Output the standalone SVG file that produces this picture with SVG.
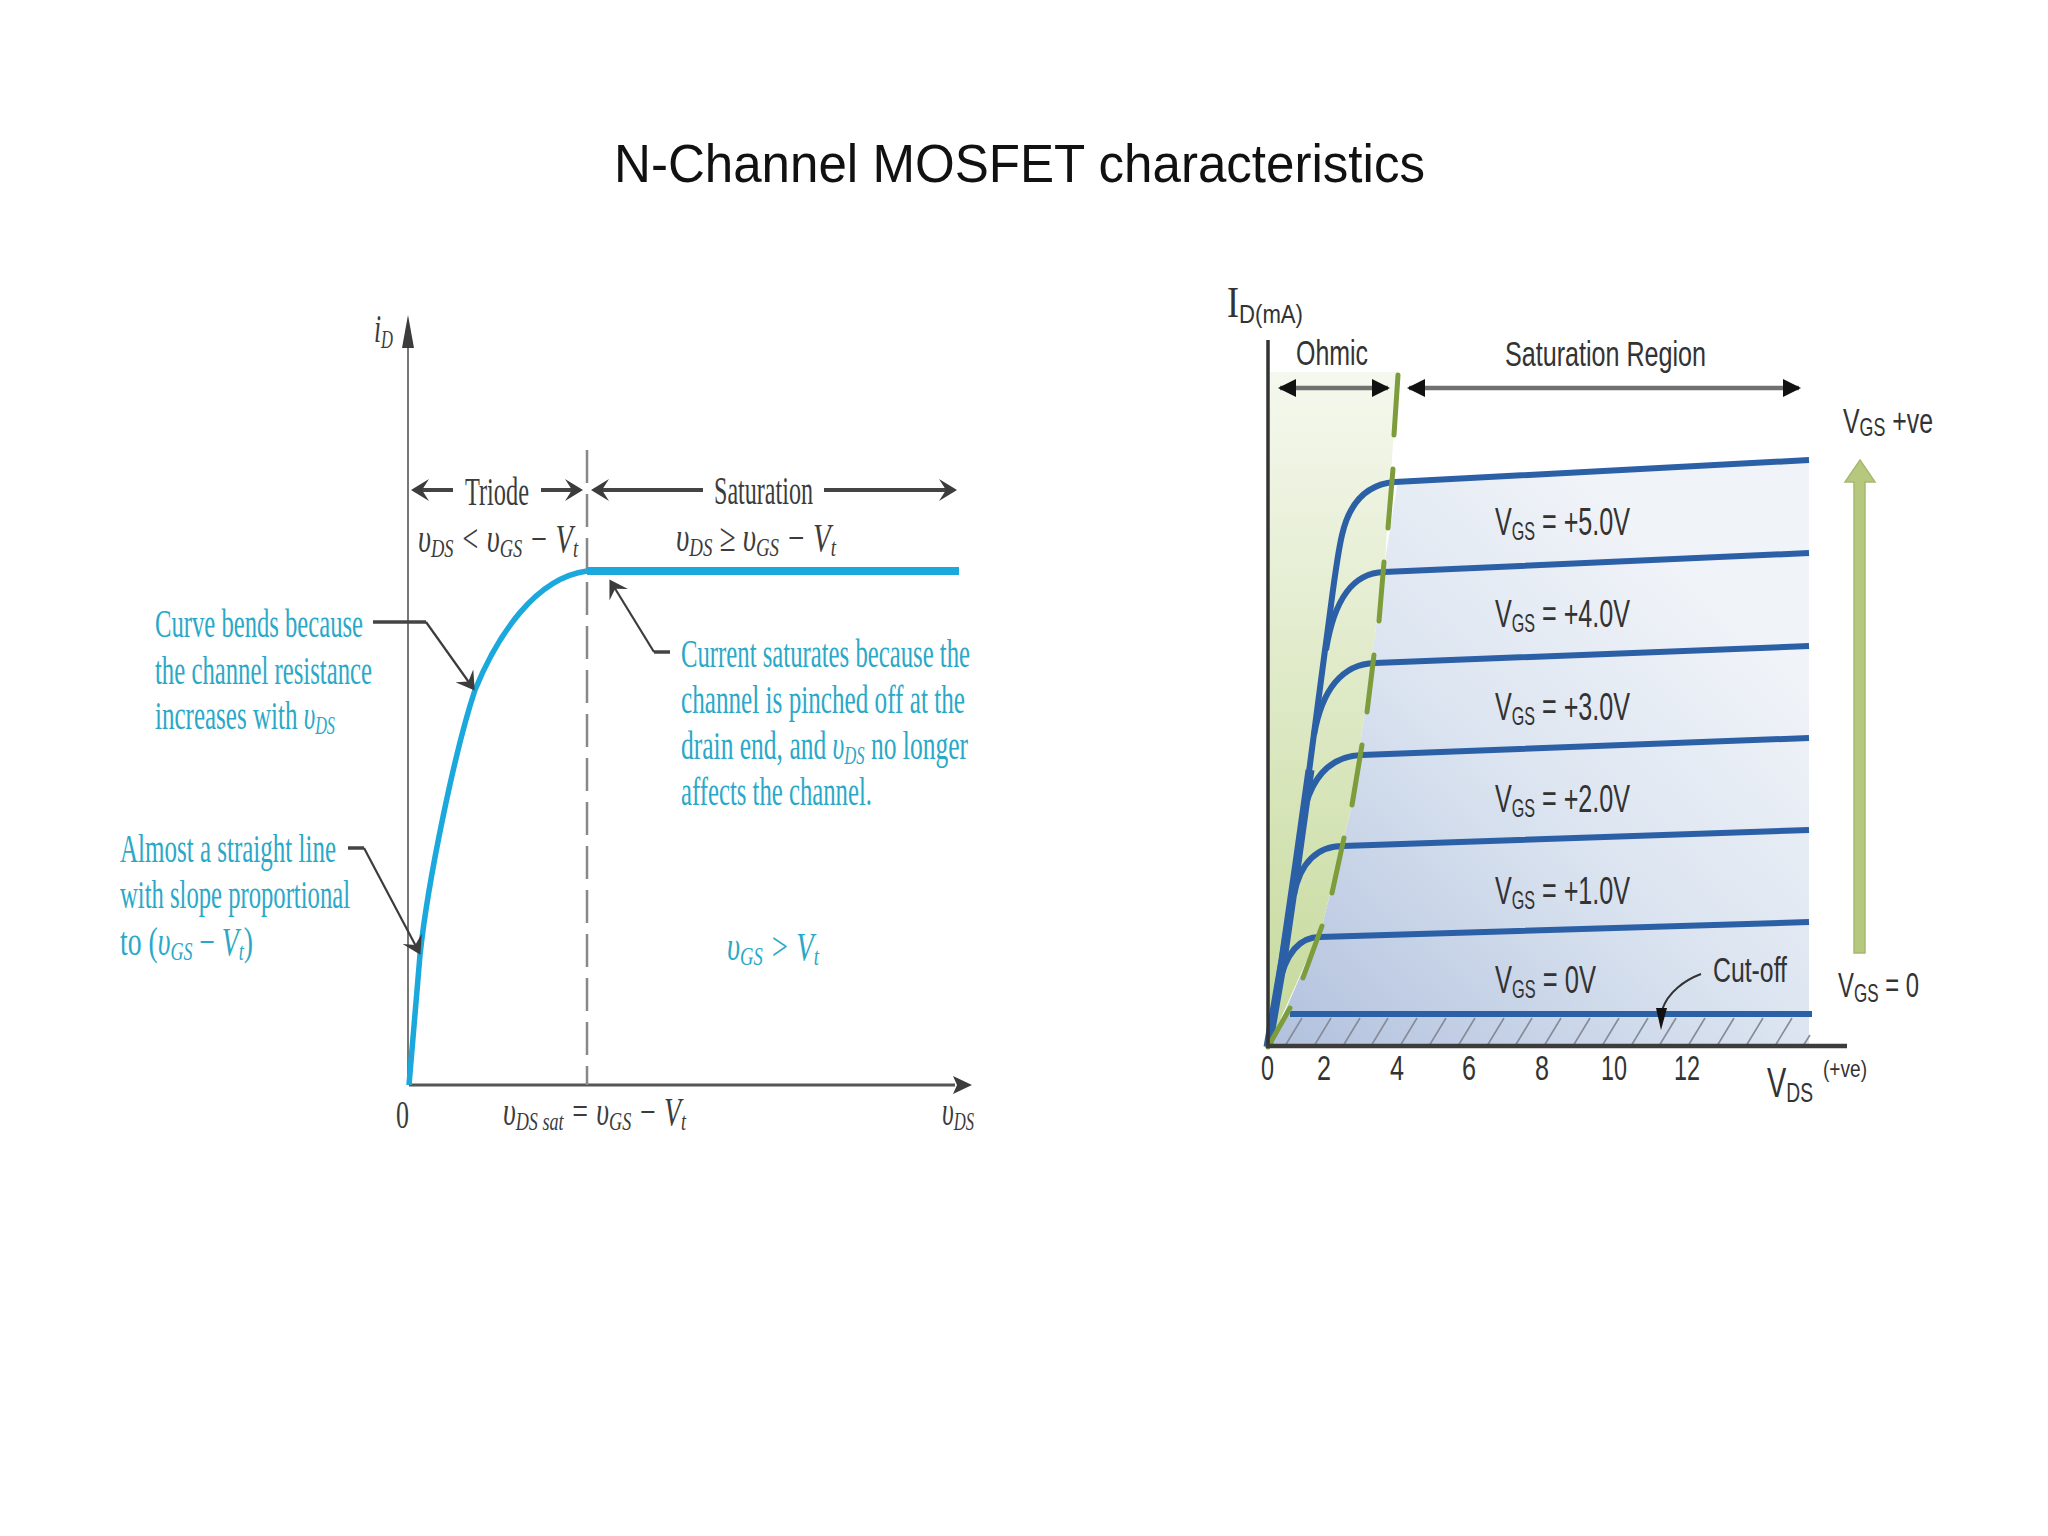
<svg xmlns="http://www.w3.org/2000/svg" width="2048" height="1536" viewBox="0 0 2048 1536">
<style>
text{white-space:pre}
.title{font:53px "Liberation Sans",Arial,sans-serif;fill:#111}
.s{font-family:"Liberation Serif","Times New Roman",serif;font-size:40px}
.d{fill:#3c3c3c}
.c{fill:#2aa8c8}
.i{font-style:italic}
.sub{font-size:26px}
.h{font-family:"Liberation Sans",Arial,sans-serif;font-size:39px;fill:#333}
.m{font-size:35px}
.gs{font-size:25px}
.thin{fill:none;stroke:#555;stroke-width:1.6}
.blk{fill:none;stroke:#3c3c3c;stroke-width:2.2}
.thk{fill:none;stroke:#444;stroke-width:4}
.bl{fill:none;stroke:#2b5fa6;stroke-width:6}
.dash{fill:none;stroke:#7d9c3c;stroke-width:5;stroke-linecap:round}
.gray{fill:none;stroke:#707070;stroke-width:4.5}
</style>
<defs>
<marker id="barb" markerUnits="userSpaceOnUse" viewBox="-18 -11 18 22" refX="-3" refY="0" markerWidth="18" markerHeight="22" orient="auto"><path d="M-18,-11 L0,0 L-18,11 L-11,0 Z" fill="#3c3c3c"/></marker>
<marker id="tri" markerUnits="userSpaceOnUse" viewBox="-18 -9 18 18" refX="-2" refY="0" markerWidth="18" markerHeight="18" orient="auto"><path d="M-18,-9 L0,0 L-18,9 Z" fill="#111"/></marker>
<linearGradient id="gb" gradientUnits="userSpaceOnUse" x1="1290" y1="1045" x2="1809" y2="480"><stop offset="0" stop-color="#b3c2de"/><stop offset=".45" stop-color="#dbe4f0"/><stop offset=".8" stop-color="#f0f3f8"/></linearGradient>
<linearGradient id="gg" gradientUnits="userSpaceOnUse" x1="0" y1="372" x2="0" y2="1046"><stop offset="0" stop-color="#f5f8ee"/><stop offset="1" stop-color="#c5d99a"/></linearGradient>
</defs>
<rect width="2048" height="1536" fill="#fff"/>
<text class="title" x="614" y="182" textLength="811" lengthAdjust="spacingAndGlyphs">N-Channel MOSFET characteristics</text>

<g id="triode-chart">
<g id="triode-axes">
<path class="thin" d="M408 1085V340"/>
<path d="M408 315L414 348H402Z" fill="#3c3c3c"/>
<path d="M409 1085H955" fill="none" stroke="#555" stroke-width="3"/>
<path d="M972 1085L953 1076L957 1085L953 1094Z" fill="#3c3c3c"/>
<path d="M587 450V1085" fill="none" stroke="#888" stroke-width="2.5" stroke-dasharray="33 11"/>
</g>
<g id="triode-curve">
<path d="M409 1085L420 955C428 880 455 750 475 690C497 636 535 578 587 571" fill="none" stroke="#1ba8dc" stroke-width="5.5"/>
<path d="M587 571H959" fill="none" stroke="#1ba8dc" stroke-width="8"/>
</g>
<g id="triode-connectors">
<path class="thk" d="M453 490H414" marker-end="url(#barb)"/>
<path class="thk" d="M541 490H580" marker-end="url(#barb)"/>
<path class="thk" d="M703 490H594" marker-end="url(#barb)"/>
<path class="thk" d="M824 490H954" marker-end="url(#barb)"/>
<path fill="none" stroke="#444" stroke-width="3.5" d="M373 622H426"/>
<path class="blk" d="M426 622L473 688" marker-end="url(#barb)"/>
<path fill="none" stroke="#444" stroke-width="3.5" d="M670 652H654"/>
<path class="blk" d="M654 652L611 582" marker-end="url(#barb)"/>
<path fill="none" stroke="#444" stroke-width="3.5" d="M348 848H364"/>
<path class="blk" d="M364 848L419 952" marker-end="url(#barb)"/>
</g>
<g id="triode-labels">
<text class="s d i" x="374" y="342" textLength="19" lengthAdjust="spacingAndGlyphs">i<tspan class="sub" dy="6">D</tspan></text>
<text class="s d" x="465" y="505" textLength="64" lengthAdjust="spacingAndGlyphs">Triode</text>
<text class="s d" x="714" y="504" textLength="99" lengthAdjust="spacingAndGlyphs">Saturation</text>
<text class="s d i" x="418" y="552" textLength="160" lengthAdjust="spacingAndGlyphs">υ<tspan class="sub" dy="5">DS</tspan><tspan dy="-5"> &lt; υ</tspan><tspan class="sub" dy="5">GS</tspan><tspan dy="-5"> − V</tspan><tspan class="sub" dy="5">t</tspan></text>
<text class="s d i" x="676" y="551" textLength="160" lengthAdjust="spacingAndGlyphs">υ<tspan class="sub" dy="5">DS</tspan><tspan dy="-5"> ≥ υ</tspan><tspan class="sub" dy="5">GS</tspan><tspan dy="-5"> − V</tspan><tspan class="sub" dy="5">t</tspan></text>
<text class="s c" x="155" y="637" textLength="208" lengthAdjust="spacingAndGlyphs">Curve bends because</text>
<text class="s c" x="155" y="684" textLength="217" lengthAdjust="spacingAndGlyphs">the channel resistance</text>
<text class="s c" x="155" y="729" textLength="180" lengthAdjust="spacingAndGlyphs">increases with <tspan class="i">υ</tspan><tspan class="sub i" dy="5">DS</tspan></text>
<text class="s c" x="681" y="667" textLength="289" lengthAdjust="spacingAndGlyphs">Current saturates because the</text>
<text class="s c" x="681" y="713" textLength="284" lengthAdjust="spacingAndGlyphs">channel is pinched off at the</text>
<text class="s c" x="681" y="759" textLength="287" lengthAdjust="spacingAndGlyphs">drain end, and <tspan class="i">υ</tspan><tspan class="sub i" dy="5">DS</tspan><tspan dy="-5"> no longer</tspan></text>
<text class="s c" x="681" y="805" textLength="191" lengthAdjust="spacingAndGlyphs">affects the channel.</text>
<text class="s c" x="120" y="862" textLength="216" lengthAdjust="spacingAndGlyphs">Almost a straight line</text>
<text class="s c" x="120" y="908" textLength="230" lengthAdjust="spacingAndGlyphs">with slope proportional</text>
<text class="s c" x="120" y="955" textLength="133" lengthAdjust="spacingAndGlyphs">to (<tspan class="i">υ</tspan><tspan class="sub i" dy="5">GS</tspan><tspan dy="-5"> − </tspan><tspan class="i">V</tspan><tspan class="sub i" dy="5">t</tspan><tspan dy="-5">)</tspan></text>
<text class="s c i" x="727" y="960" textLength="92" lengthAdjust="spacingAndGlyphs">υ<tspan class="sub" dy="5">GS</tspan><tspan dy="-5"> &gt; V</tspan><tspan class="sub" dy="5">t</tspan></text>
<text class="s d" x="396" y="1128" textLength="13" lengthAdjust="spacingAndGlyphs">0</text>
<text class="s d i" x="503" y="1125" textLength="183" lengthAdjust="spacingAndGlyphs">υ<tspan class="sub" dy="5">DS sat</tspan><tspan dy="-5"> = υ</tspan><tspan class="sub" dy="5">GS</tspan><tspan dy="-5"> − V</tspan><tspan class="sub" dy="5">t</tspan></text>
<text class="s d i" x="942" y="1125" textLength="32" lengthAdjust="spacingAndGlyphs">υ<tspan class="sub" dy="5">DS</tspan></text>
</g>
</g>

<g id="output-chart">
<g id="output-regions">
<path fill="url(#gb)" d="M1398 480L1809 459V1046H1270L1322 926L1352 805L1385 560Z"/>
<path fill="url(#gg)" d="M1270 372H1398L1385 560L1352 805L1322 926L1268 1047Z"/>
<path d="M1285 1046l17-28M1314 1046l17-28M1343 1046l17-28M1371 1046l17-28M1400 1046l17-28M1429 1046l17-28M1458 1046l17-28M1487 1046l17-28M1515 1046l17-28M1544 1046l17-28M1573 1046l17-28M1602 1046l17-28M1631 1046l17-28M1659 1046l17-28M1688 1046l17-28M1717 1046l17-28M1746 1046l17-28M1775 1046l17-28M1803 1046l7-11" fill="none" stroke="#858b98" stroke-width="1.6"/>
</g>
<g id="output-curves">
<path class="bl" d="M1268 1047L1297 863L1325 650C1332 600 1336 560 1342 535C1350 500 1368 484 1395 482L1809 460"/>
<path class="bl" d="M1326 650C1334 600 1352 573 1384 572L1809 553"/>
<path class="bl" d="M1314 735C1322 690 1342 664 1375 663L1809 646"/>
<path class="bl" d="M1303 815C1311 778 1330 756 1362 755L1809 738"/>
<path class="bl" d="M1294 895C1300 862 1318 846 1343 846L1809 830"/>
<path class="bl" d="M1279 985C1286 952 1300 937 1320 937L1809 922"/>
<path class="bl" d="M1290 1014H1812"/>
<path d="M1268 1047L1283 960L1297 863L1310 770" fill="none" stroke="#2b5fa6" stroke-width="9"/>
</g>
<g id="output-boundary">
<path class="dash" d="M1398 375L1394 435M1393 469L1388 528M1384 562L1379 621M1374 655L1367 712M1362 745L1352 805M1344 838L1332 893M1322 926L1303 978M1290 1008L1268 1047"/>
</g>
<g id="output-axes">
<path fill="none" stroke="#333" stroke-width="3.5" d="M1268 340V1046"/>
<path fill="none" stroke="#3c3c3c" stroke-width="4.5" d="M1266 1046H1847"/>
</g>
<g id="output-connectors">
<path class="gray" d="M1330 388H1280" marker-end="url(#tri)"/>
<path class="gray" d="M1330 388H1388" marker-end="url(#tri)"/>
<path class="gray" d="M1600 388H1409" marker-end="url(#tri)"/>
<path class="gray" d="M1600 388H1799" marker-end="url(#tri)"/>
<path d="M1860 460L1875 482H1865V953H1854V482H1845Z" fill="#b5c87e" stroke="#a5b96f" stroke-width="1.5"/>
<path d="M1701 974C1685 980 1668 992 1662 1010" fill="none" stroke="#333" stroke-width="2"/>
<path d="M1656 1008H1667L1661 1030Z" fill="#111"/>
</g>
<g id="output-labels">
<text class="h" x="1495" y="535" textLength="135" lengthAdjust="spacingAndGlyphs">V<tspan class="gs" dy="5">GS</tspan><tspan dy="-5"> = +5.0V</tspan></text>
<text class="h" x="1495" y="627" textLength="135" lengthAdjust="spacingAndGlyphs">V<tspan class="gs" dy="5">GS</tspan><tspan dy="-5"> = +4.0V</tspan></text>
<text class="h" x="1495" y="720" textLength="135" lengthAdjust="spacingAndGlyphs">V<tspan class="gs" dy="5">GS</tspan><tspan dy="-5"> = +3.0V</tspan></text>
<text class="h" x="1495" y="812" textLength="135" lengthAdjust="spacingAndGlyphs">V<tspan class="gs" dy="5">GS</tspan><tspan dy="-5"> = +2.0V</tspan></text>
<text class="h" x="1495" y="904" textLength="135" lengthAdjust="spacingAndGlyphs">V<tspan class="gs" dy="5">GS</tspan><tspan dy="-5"> = +1.0V</tspan></text>
<text class="h" x="1495" y="993" textLength="101" lengthAdjust="spacingAndGlyphs">V<tspan class="gs" dy="5">GS</tspan><tspan dy="-5"> = 0V</tspan></text>
<text class="h m" x="1713" y="982" textLength="74" lengthAdjust="spacingAndGlyphs">Cut-off</text>
<text class="h m" x="1296" y="365" textLength="72" lengthAdjust="spacingAndGlyphs">Ohmic</text>
<text class="h m" x="1505" y="366" textLength="201" lengthAdjust="spacingAndGlyphs">Saturation Region</text>
<text class="h m" x="1843" y="433" textLength="90" lengthAdjust="spacingAndGlyphs">V<tspan class="gs" dy="3">GS</tspan><tspan dy="-3"> +ve</tspan></text>
<text class="h m" x="1838" y="997" textLength="81" lengthAdjust="spacingAndGlyphs">V<tspan class="gs" dy="5">GS</tspan><tspan dy="-5"> = 0</tspan></text>
<text x="1227" y="317" font-family="Liberation Serif, serif" font-size="44" fill="#333" textLength="12" lengthAdjust="spacingAndGlyphs">I</text>
<text x="1239" y="323" font-family="Liberation Sans, sans-serif" font-size="25" fill="#333" textLength="64" lengthAdjust="spacingAndGlyphs">D(mA)</text>
<text class="h m" x="1261" y="1080" textLength="13" lengthAdjust="spacingAndGlyphs">0</text>
<text class="h m" x="1317" y="1080" textLength="14" lengthAdjust="spacingAndGlyphs">2</text>
<text class="h m" x="1390" y="1080" textLength="14" lengthAdjust="spacingAndGlyphs">4</text>
<text class="h m" x="1462" y="1080" textLength="14" lengthAdjust="spacingAndGlyphs">6</text>
<text class="h m" x="1535" y="1080" textLength="14" lengthAdjust="spacingAndGlyphs">8</text>
<text class="h m" x="1601" y="1080" textLength="26" lengthAdjust="spacingAndGlyphs">10</text>
<text class="h m" x="1674" y="1080" textLength="26" lengthAdjust="spacingAndGlyphs">12</text>
<text x="1767" y="1097" font-family="Liberation Sans, sans-serif" font-size="42" fill="#333" textLength="46" lengthAdjust="spacingAndGlyphs">V<tspan font-size="28" dy="5">DS</tspan></text>
<text x="1823" y="1077" font-family="Liberation Sans, sans-serif" font-size="24" fill="#333" textLength="44" lengthAdjust="spacingAndGlyphs">(+ve)</text>
</g>
</g>
</svg>
